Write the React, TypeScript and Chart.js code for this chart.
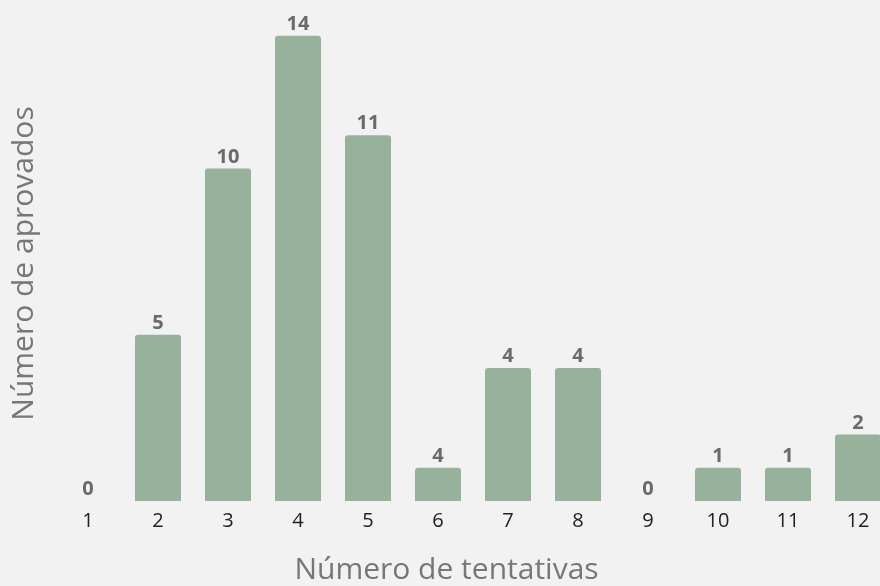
import React, { useEffect, useRef } from "react";
import { Chart, registerables } from "chart.js";

Chart.register(...registerables);

const categories = ["1", "2", "3", "4", "5", "6", "7", "8", "9", "10", "11", "12"];
const barValues = [0, 5, 10, 14, 11, 1, 4, 4, 0, 1, 1, 2];
const barLabels = ["0", "5", "10", "14", "11", "4", "4", "4", "0", "1", "1", "2"];
const xTitle = "Número de tentativas";
const yTitle = "Número de aprovados";

const FONT = '"Open Sans", "Noto Sans", sans-serif';
const BG = "#f2f2f2";
const BAR = "#96b29a";

const bgPlugin = {
  id: "bgFill",
  beforeDraw(chart: any) {
    const { ctx, width, height } = chart;
    ctx.save();
    ctx.fillStyle = BG;
    ctx.fillRect(0, 0, width, height);
    ctx.restore();
  },
};

const valueLabels = {
  id: "valueLabels",
  afterDatasetsDraw(chart: any) {
    const { ctx } = chart;
    const meta = chart.getDatasetMeta(0);
    ctx.save();
    ctx.font = `bold 20px ${FONT}`;
    ctx.fillStyle = "#6a6a6a";
    ctx.textAlign = "center";
    ctx.textBaseline = "alphabetic";
    meta.data.forEach((bar: any, i: number) => {
      ctx.fillText(barLabels[i], bar.x, bar.y - 6);
    });
    ctx.restore();
  },
};

export default function App() {
  const ref = useRef<HTMLCanvasElement | null>(null);

  useEffect(() => {
    let chart: Chart | null = null;
    let cancelled = false;
    const make = () => {
      if (cancelled || !ref.current) return;
      chart = new Chart(ref.current, {
        type: "bar",
        data: {
          labels: categories,
          datasets: [
            {
              data: barValues,
              backgroundColor: BAR,
              borderRadius: { topLeft: 3, topRight: 3, bottomLeft: 0, bottomRight: 0 },
              borderSkipped: false,
              barPercentage: 0.657,
              categoryPercentage: 1,
            },
          ],
        },
        options: {
          responsive: false,
          animation: false,
          layout: { padding: { top: 26, left: 0, right: 0, bottom: 0 } },
          plugins: {
            legend: { display: false },
            tooltip: { enabled: false },
            title: {
              display: true,
              position: "bottom",
              text: xTitle,
              color: "#777777",
              font: { family: FONT, size: 30, weight: "normal", lineHeight: 1.0 },
              padding: { top: 0, bottom: 1 },
            },
          },
          scales: {
            x: {
              grid: { display: false, drawTicks: false },
              border: { display: false },
              ticks: {
                color: "#222222",
                padding: 8,
                font: { family: FONT, size: 20, lineHeight: 1.2 },
                maxRotation: 0,
                autoSkip: false,
              },
              afterFit(scale: any) {
                scale.height = 54;
              },
            },
            y: {
              min: 0,
              max: 14.29,
              grid: { display: false, drawTicks: false },
              border: { display: false },
              ticks: { display: false },
              title: {
                display: true,
                text: yTitle,
                color: "#777777",
                font: { family: FONT, size: 30, weight: "normal", lineHeight: 1.2 },
                padding: { top: 6, bottom: 0 },
              },
              afterFit(scale: any) {
                scale.width = 53;
              },
            },
          },
        },
        plugins: [bgPlugin, valueLabels],
      });
    };
    const fonts: any = (document as any).fonts;
    if (fonts && fonts.load) {
      Promise.all([
        fonts.load(`30px "Open Sans"`),
        fonts.load(`bold 20px "Open Sans"`),
      ]).then(make, make);
    } else {
      make();
    }
    return () => {
      cancelled = true;
      if (chart) chart.destroy();
    };
  }, []);

  return (
    <div
      style={{
        position: "fixed",
        left: 0,
        top: 0,
        width: 880,
        height: 586,
        overflow: "hidden",
        background: BG,
      }}
    >
      <canvas ref={ref} width={893} height={586} style={{ display: "block", width: 893, height: 586 }} />
    </div>
  );
}
